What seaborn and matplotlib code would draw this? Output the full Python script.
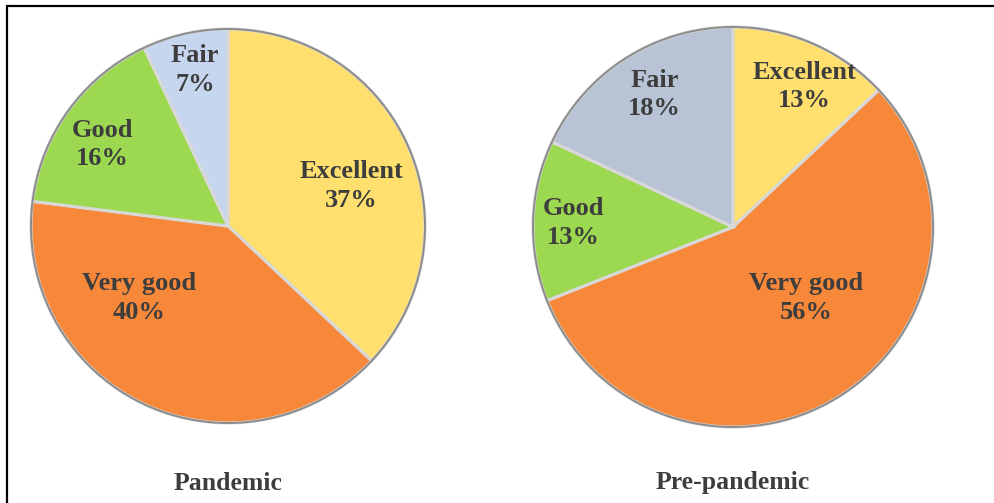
import matplotlib
matplotlib.use("Agg")
import matplotlib.pyplot as plt
import seaborn as sns
import numpy as np
from matplotlib.patches import Rectangle, Circle

sns.set_theme(style="white")
plt.rcParams['font.family'] = ['Liberation Serif', 'DejaVu Serif']

# ---- data ----
categories = ["Excellent", "Very good", "Good", "Fair"]
pandemic = [37, 40, 16, 7]
prepandemic = [13, 56, 13, 18]
titles = ["Pandemic", "Pre-pandemic"]

colors_pandemic = ["#FFE06E", "#F7883A", "#9CD850", "#C6D6EF"]
colors_pre = ["#FFE06E", "#F7883A", "#9CD850", "#B8C4D6"]

# label placement (radial fraction, angle in degrees) - layout only
label_pos_pandemic = [(0.66, 18), (0.58, 219), (0.76, 147), (0.81, 102)]
label_pos_pre = [(0.79, 63), (0.51, -44), (0.80, 178.6), (0.77, 120.6)]

W, H = 994, 503
fig = plt.figure(figsize=(W / 100, H / 100), dpi=100)
fig.patch.set_facecolor("white")

def add_pie(cx, cy, r, values, colors, label_pos, title):
    lim = 1.1
    size = 2 * lim * r
    ax = fig.add_axes([(cx - size / 2) / W, (H - cy - size / 2) / H, size / W, size / H])
    wedges, _ = ax.pie(values, colors=colors, startangle=90, counterclock=False,
                       wedgeprops=dict(edgecolor="#d8d8d8", linewidth=2.2))
    ax.add_patch(Circle((0, 0), 1.0, fill=False, edgecolor="#8c8c8c", linewidth=1.4))
    for cat, v, (rf, ang) in zip(categories, values, label_pos):
        a = np.deg2rad(ang)
        ax.text(rf * np.cos(a), rf * np.sin(a), f"{cat}\n{v}%", ha="center", va="center",
                fontsize=19, fontweight="bold", color="#3d3d3d", linespacing=1.3)
    ax.set_xlim(-lim, lim)
    ax.set_ylim(-lim, lim)
    ax.set_aspect("equal")
    ax.axis("off")
    fig.text(cx / W, 1 - 483 / H, title, ha="center", va="center",
             fontsize=18.5, fontweight="bold", color="#3d3d3d")
    return ax

add_pie(228, 226, 197, pandemic, colors_pandemic, label_pos_pandemic, titles[0])
add_pie(733, 227, 200, prepandemic, colors_pre, label_pos_pre, titles[1])

fig.patches.append(Rectangle((7 / W, -0.1), 1.2, 1 - 6 / H + 0.1, transform=fig.transFigure,
                             fill=False, edgecolor="black", linewidth=1.6))

fig.savefig("out.png", dpi=100, facecolor="white")
